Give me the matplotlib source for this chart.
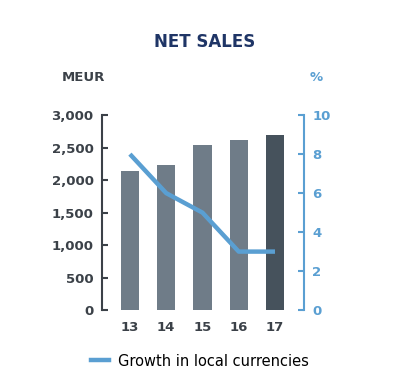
import matplotlib.pyplot as plt
from matplotlib.lines import Line2D

years = ["13", "14", "15", "16", "17"]
net_sales = [2140, 2230, 2540, 2625, 2690]
growth = [8, 6, 5, 3, 3]
bar_colors = ["#6f7c88", "#6f7c88", "#6f7c88", "#6f7c88", "#46525c"]

dark = "#3b4148"
blue = "#5a9fd2"

fig = plt.figure(figsize=(4, 3.8), dpi=100)
ax = fig.add_axes([0.255, 0.184, 0.505, 0.513])
x = range(len(years))
ax.bar(x, net_sales, width=0.5, color=bar_colors, zorder=1)
ax.set_xlim(-0.77, 4.8)
ax.set_ylim(0, 3000)
ax.set_yticks([0, 500, 1000, 1500, 2000, 2500, 3000])
ax.set_yticklabels(["0", "500", "1,000", "1,500", "2,000", "2,500", "3,000"])
ax.set_xticks(list(x))
ax.set_xticklabels(years)
ax.tick_params(axis="y", direction="in", length=4, width=1.5, color=dark,
               labelsize=9.5, labelcolor=dark, pad=6)
ax.tick_params(axis="x", length=0, labelsize=9.5, labelcolor=dark, pad=8)
for lab in ax.get_xticklabels() + ax.get_yticklabels():
    lab.set_fontweight("bold")
for s in ["top", "right", "bottom"]:
    ax.spines[s].set_visible(False)
ax.spines["left"].set_color(dark)
ax.spines["left"].set_linewidth(1.5)

ax2 = ax.twinx()
ax2.plot(x, growth, color=blue, lw=3.2, solid_capstyle="butt", zorder=3)
ax2.set_ylim(0, 10)
ax2.set_yticks([0, 2, 4, 6, 8, 10])
ax2.tick_params(axis="y", direction="in", length=4, width=1.5, color=blue,
                labelsize=9.5, labelcolor=blue, pad=6)
for lab in ax2.get_yticklabels():
    lab.set_fontweight("bold")
for s in ["top", "left", "bottom"]:
    ax2.spines[s].set_visible(False)
ax2.spines["right"].set_color(blue)
ax2.spines["right"].set_linewidth(1.5)

fig.text(0.512, 0.89, "NET SALES", ha="center", va="center", fontsize=12,
         fontweight="bold", color="#1f3566")
fig.text(0.155, 0.795, "MEUR", ha="left", va="center", fontsize=9.5,
         fontweight="bold", color=dark)
fig.text(0.79, 0.795, "%", ha="center", va="center", fontsize=9.5,
         fontweight="bold", color=blue)

handle = Line2D([], [], color=blue, lw=3.2)
fig.legend([handle], ["Growth in local currencies"], loc="center",
           bbox_to_anchor=(0.5, 0.05), frameon=False, fontsize=10.5,
           handlelength=1.2, handletextpad=0.6)

fig.savefig("out.png", dpi=100)
